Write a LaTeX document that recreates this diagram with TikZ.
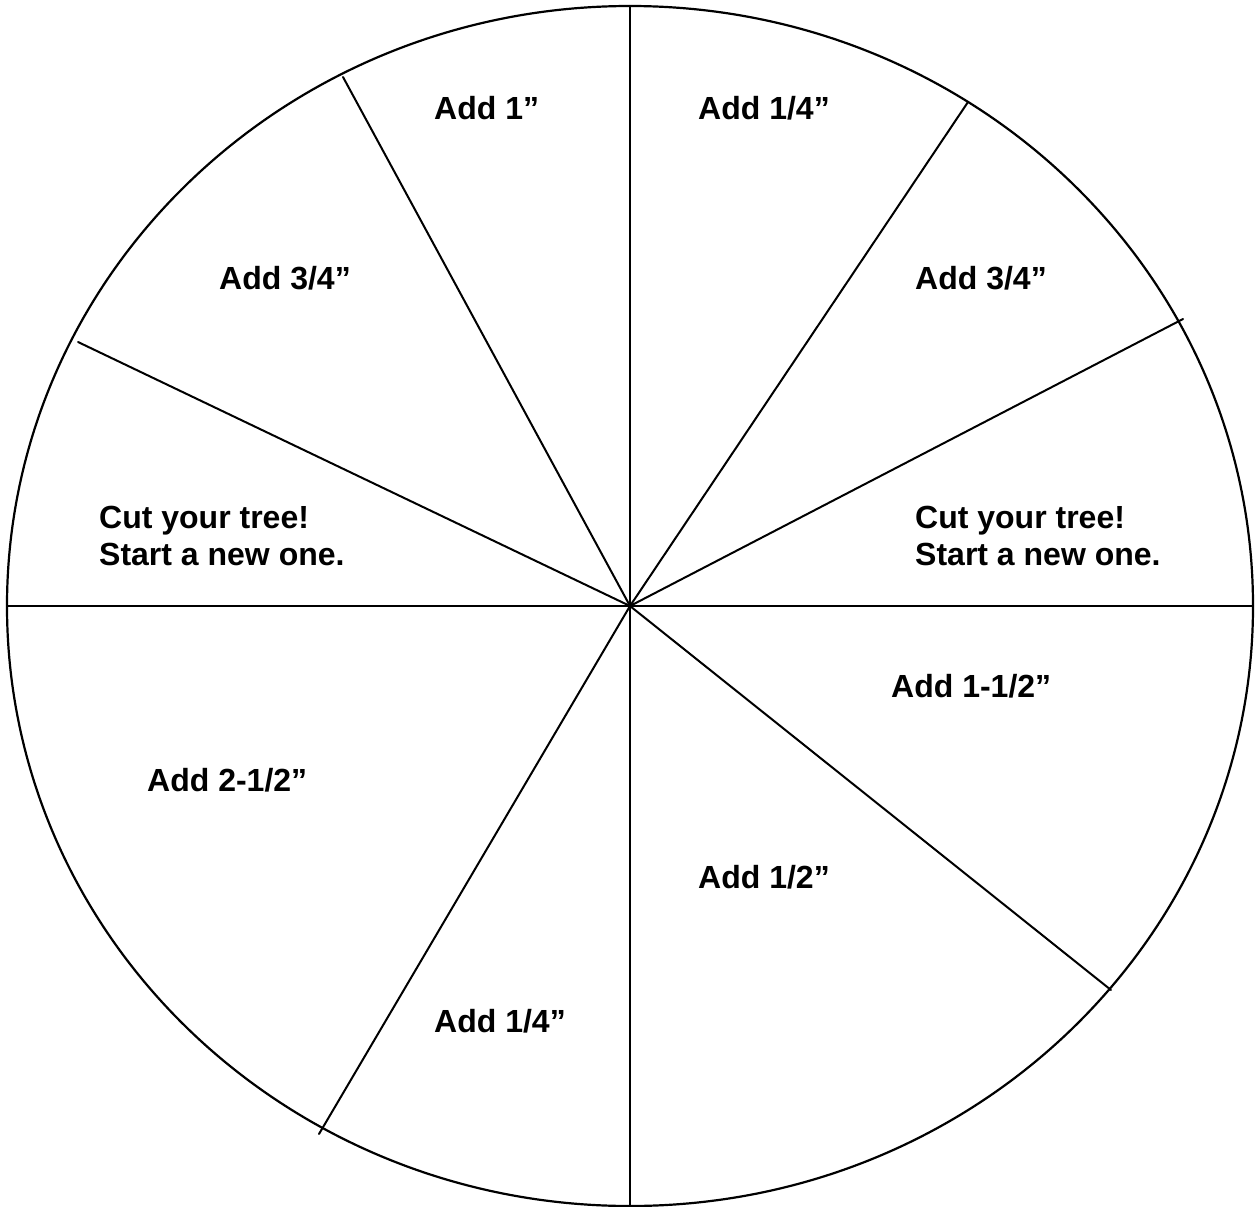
\documentclass[tikz,border=0pt]{standalone}
\usepackage{fontspec}
\setmainfont{Liberation Sans}
\begin{document}
\begin{tikzpicture}[x=1pt,y=-1pt,
  spoke/.style={line width=2pt, line cap=round},
  lab/.style={anchor=base west, inner sep=0pt, font=\fontsize{32}{37}\selectfont\bfseries, align=left}]
\useasboundingbox (0,0) rectangle (1259,1207);
\fill[white] (0,0) rectangle (1259,1207);
\coordinate (c) at (630,606);
\draw[line width=2.2pt] (c) ellipse [x radius=623, y radius=600];
\coordinate (top) at (630,6);
\coordinate (bot) at (630,1205);
\coordinate (lft) at (7,606);
\coordinate (rgt) at (1253,606);
\coordinate (p1) at (343,77);
\coordinate (p2) at (968,102);
\coordinate (p3) at (1183,319);
\coordinate (p4) at (78,342);
\coordinate (p5) at (1111,990);
\coordinate (p6) at (319,1134);
\draw[spoke] (top) -- (bot);
\draw[spoke] (lft) -- (rgt);
\foreach \p in {p1,p2,p3,p4,p5,p6} \draw[spoke] (c) -- (\p);
\node[lab] (t1) at (434,120) {Add 1”};
\node[lab] (t2) at (698,120) {Add 1/4”};
\node[lab] (t3) at (219,289) {Add 3/4”};
\node[lab] (t4) at (915,289) {Add 3/4”};
\node[lab] (t5) at (99,565) {Cut your tree!\\Start a new one.};
\node[lab] (t6) at (915,565) {Cut your tree!\\Start a new one.};
\node[lab] (t7) at (891,697) {Add 1-1/2”};
\node[lab] (t8) at (147,791) {Add 2-1/2”};
\node[lab] (t9) at (698,888) {Add 1/2”};
\node[lab] (t10) at (434,1032) {Add 1/4”};
\end{tikzpicture}
\end{document}
